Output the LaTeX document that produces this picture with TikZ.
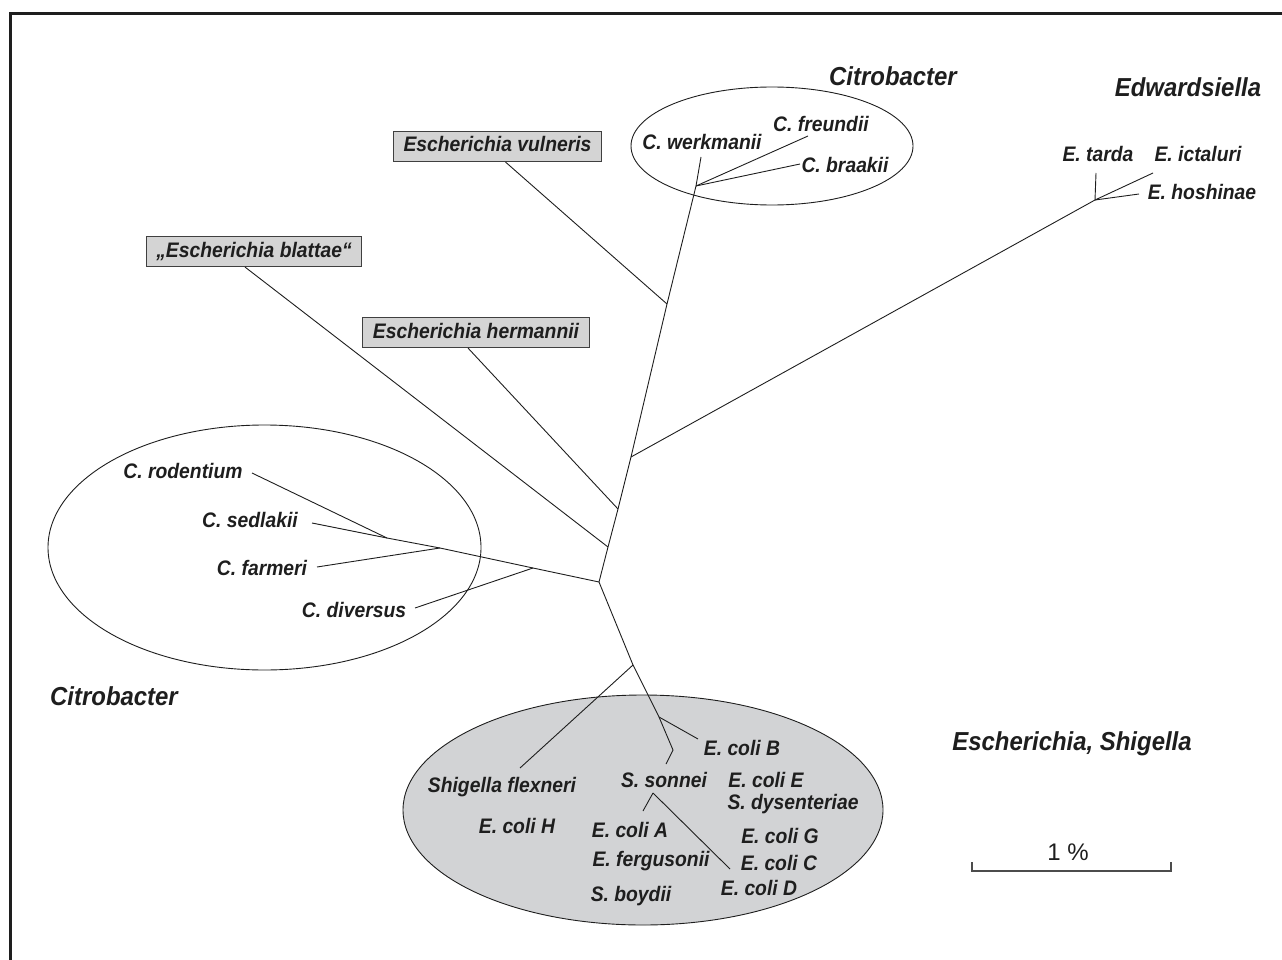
\documentclass[tikz,border=0pt]{standalone}
\usepackage{fontspec}
\setmainfont{Liberation Sans}
\newfontfamily\lblfont{Liberation Sans}[FakeStretch=0.92]
\usetikzlibrary{calc}
\definecolor{boxgray}{RGB}{212,212,212}
\definecolor{ellgray}{RGB}{210,211,213}
\definecolor{ink}{RGB}{30,30,30}
\begin{document}
\begin{tikzpicture}[x=1pt,y=-1pt,
  lbl/.style={font=\lblfont\fontsize{21}{24}\selectfont\bfseries\itshape, text=ink, inner sep=0pt, anchor=base},
  ttl/.style={font=\lblfont\fontsize{26}{30}\selectfont\bfseries\itshape, text=ink, inner sep=0pt, anchor=base},
  namebox/.style={font=\lblfont\fontsize{21}{24}\selectfont\bfseries\itshape, text=ink, draw=black!75, fill=boxgray, line width=1.1pt, inner xsep=10pt, inner ysep=5.5pt, text height=15pt, text depth=4pt},
  br/.style={draw=ink, line width=0.9pt},
  clade/.style={draw=ink, line width=0.9pt}]
\useasboundingbox (0,0) rectangle (1282,960);
% frame
\draw[line width=3pt, ink] (10.5,960) -- (10.5,13.8) -- (1282,13.8);
% clade ellipses
\path[clade, fill=ellgray] (643,810) ellipse [x radius=240, y radius=115];
\path[clade] (772,146) ellipse [x radius=141, y radius=59];
\path[clade] (264.5,547.5) ellipse [x radius=216.5, y radius=122.5];
% trunk joints
\coordinate (tc) at (696,186);
\coordinate (jv) at (667,304);
\coordinate (je) at (631,457);
\coordinate (jh) at (618,509);
\coordinate (jb) at (608,547);
\coordinate (root) at (599,582);
\coordinate (js) at (633,665);
\coordinate (jB) at (659,717);
\coordinate (jS) at (673,750);
\coordinate (sS) at (666,764);
\coordinate (ss2) at (653,793);
\coordinate (eAe) at (643,811);
\coordinate (eDe) at (730,869);
\coordinate (shfe) at (520,768);
\coordinate (eBe) at (698,739);
% top citrobacter
\coordinate (cwe) at (701,157);
\coordinate (cfe) at (808,136);
\coordinate (cbe) at (800,164);
% edwardsiella
\coordinate (eN) at (1095,200);
\coordinate (ete) at (1096,173);
\coordinate (eie) at (1153,173);
\coordinate (ehe) at (1139,194);
% left citrobacter
\coordinate (cl4) at (533,568);
\coordinate (cl3) at (440,548);
\coordinate (cl2) at (387,538);
\coordinate (csed) at (312,523);
\coordinate (crod) at (252,473);
\coordinate (cfar) at (317,567);
\coordinate (cdiv) at (415,608);
% boxes
\node[namebox] (vul) at (497.5,146.5) {Escherichia vulneris};
\node[namebox] (bla) at (254,251.5) {„Escherichia blattae“};
\node[namebox] (her) at (476,332.5) {Escherichia hermannii};
% branches
\draw[br] (cwe) -- (tc) -- (jv) -- (je) -- (jh) -- (jb) -- (root) -- (js) -- (jB) -- (jS) -- (sS);
\draw[br] (tc) -- (cfe);
\draw[br] (tc) -- (cbe);
\draw[br] ($(vul.south)+(8,0)$) -- (jv);
\draw[br] ($(bla.south)+(-9,0)$) -- (jb);
\draw[br] ($(her.south)+(-8,0)$) -- (jh);
\draw[br] (je) -- (eN);
\draw[br] (eN) -- (ete);
\draw[br] (eN) -- (eie);
\draw[br] (eN) -- (ehe);
\draw[br] (root) -- (cl4) -- (cl3) -- (cl2) -- (csed);
\draw[br] (cl2) -- (crod);
\draw[br] (cl3) -- (cfar);
\draw[br] (cl4) -- (cdiv);
\draw[br] (js) -- (shfe);
\draw[br] (jB) -- (eBe);
\draw[br] (ss2) -- (eAe);
\draw[br] (ss2) -- (eDe);
% titles
\node[ttl] (tCitTop) at (893,86) {Citrobacter};
\node[ttl] (tEdw) at (1188,97) {Edwardsiella};
\node[ttl] (tCitLeft) at (114,705) {Citrobacter};
\node[ttl] (tEsch) at (1072,750) {Escherichia, Shigella};
% labels
\node[lbl] (lwer) at (702,150) {C. werkmanii};
\node[lbl] (lfre) at (821,132) {C. freundii};
\node[lbl] (lbra) at (845,173) {C. braakii};
\node[lbl] (ltar) at (1098,162) {E. tarda};
\node[lbl] (lict) at (1198,162) {E. ictaluri};
\node[lbl] (lhos) at (1202,200) {E. hoshinae};
\node[lbl] (lrod) at (183,478) {C. rodentium};
\node[lbl] (lsed) at (250,527) {C. sedlakii};
\node[lbl] (lfar) at (262,575) {C. farmeri};
\node[lbl] (ldiv) at (354,617) {C. diversus};
\node[lbl] (lson) at (664,787) {S. sonnei};
\node[lbl] (lecB) at (742,755) {E. coli B};
\node[lbl] (lecE) at (766,787) {E. coli E};
\node[lbl] (ldys) at (793,809) {S. dysenteriae};
\node[lbl] (lecG) at (780,843) {E. coli G};
\node[lbl] (lecC) at (779,870) {E. coli C};
\node[lbl] (lecD) at (759,895) {E. coli D};
\node[lbl] (lshf) at (502,792) {Shigella flexneri};
\node[lbl] (lecH) at (517,833) {E. coli H};
\node[lbl] (lecA) at (630,837) {E. coli A};
\node[lbl] (lfer) at (651,866) {E. fergusonii};
\node[lbl] (lboy) at (631,901) {S. boydii};
% scale bar
\coordinate (sb1) at (972,871);
\coordinate (sb2) at (1171,871);
\draw[draw=black!70, line width=1.2pt] ($(sb1)+(0,-9)$) -- (sb1) -- (sb2) -- ($(sb2)+(0,-9)$);
\node[font=\fontsize{24}{28}\selectfont, text=ink, inner sep=0pt, anchor=base] (sbl) at (1068,860) {1 \%};
\end{tikzpicture}
\end{document}
